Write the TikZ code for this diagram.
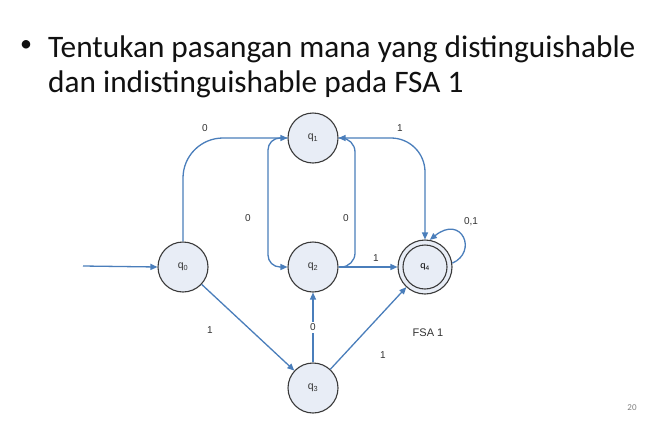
\documentclass[tikz,border=0pt]{standalone}
\usepackage{fontspec}
\setmainfont{Carlito}
\newfontfamily\arialf{Liberation Sans}
\usetikzlibrary{arrows.meta}
\definecolor{edgeblue}{HTML}{4A7EBB}
\definecolor{nodefill}{HTML}{E8EDF6}
\definecolor{nodeline}{HTML}{3A3A3A}
\definecolor{labtext}{HTML}{333333}
\definecolor{titletext}{HTML}{111111}
\begin{document}
\begin{tikzpicture}[x=1pt,y=-1pt,
  state/.style={circle,draw=nodeline,fill=nodefill,line width=1.1pt,minimum size=50pt,inner sep=0pt,font=\arialf\fontsize{10.5}{12}\selectfont,text=labtext},
  acc/.style={circle,draw=nodeline,line width=1.1pt,minimum size=44pt,inner sep=0pt},
  tr/.style={draw=edgeblue,line width=1.3pt,-{Triangle[length=7pt,width=6pt]}},
  lab/.style={font=\arialf\fontsize{10}{12}\selectfont,text=labtext,inner sep=1pt},
  ttl/.style={anchor=base west,inner sep=0pt,text=titletext,font=\fontsize{31.3}{36}\selectfont}]
\useasboundingbox[fill=white] (0,0) rectangle (656,421);
% title
\node[text=titletext,font=\fontsize{24}{28}\selectfont,inner sep=0pt] (bul) at (26,46) {•};
\node[ttl] (t1) at (48,57) {Tentukan pasangan mana yang distinguishable};
\node[ttl] (t2) at (48,92) {dan indistinguishable pada FSA 1};
% states
\node[state] (q0) at (183,267) {q\textsubscript{0}};
\node[state] (q1) at (313,138) {q\textsubscript{1}};
\node[state] (q2) at (313,267) {q\textsubscript{2}};
\node[state] (q3) at (313,388) {q\textsubscript{3}};
\node[state,minimum size=54pt] (q4) at (425,267) {};
\node[acc] (q4i) at (425,267) {q\textsubscript{4}};
\coordinate (init) at (83,266);
\coordinate (lc) at (268,200);
\coordinate (rc) at (355,200);
% transitions
\draw[tr] (init) -- (q0.west);
\draw[tr,rounded corners=40pt] (q0.north) |- (q1.west);
\node[lab] (l01) at (205,128) {0};
\draw[tr,rounded corners=12pt] (q1.west) -| (lc) |- (q2.west);
\node[lab] (l12) at (248,218) {0};
\draw[tr,rounded corners=14pt] (q2.east) -| (rc) |- (q1.east);
\node[lab] (l21) at (346,218) {0};
\draw[tr,rounded corners=34pt] (q1.east) -| (q4.north);
\node[lab] (l14) at (400,128) {1};
\draw[tr] (q2.east) -- (q4.west);
\node[lab] (l24) at (376,258) {1};
\draw[tr] (q0) -- (q3);
\node[lab] (l03) at (210,330) {1};
\draw[tr] (q3) -- (q2) node[lab,midway,fill=white,inner sep=1.5pt] {0};
\draw[tr] (q3) -- (q4);
\node[lab] (l34) at (383,355) {1};
\draw[tr] (q4.8) .. controls (478,252) and (462,214) .. (q4.80);
\node[lab] (l44) at (471,222) {0,1};
\node[lab,font=\arialf\fontsize{11}{13}\selectfont] (fsa) at (428,333) {FSA 1};
\node[font=\fontsize{9}{11}\selectfont,text=gray] (pg) at (632,408) {20};
\end{tikzpicture}
\end{document}
